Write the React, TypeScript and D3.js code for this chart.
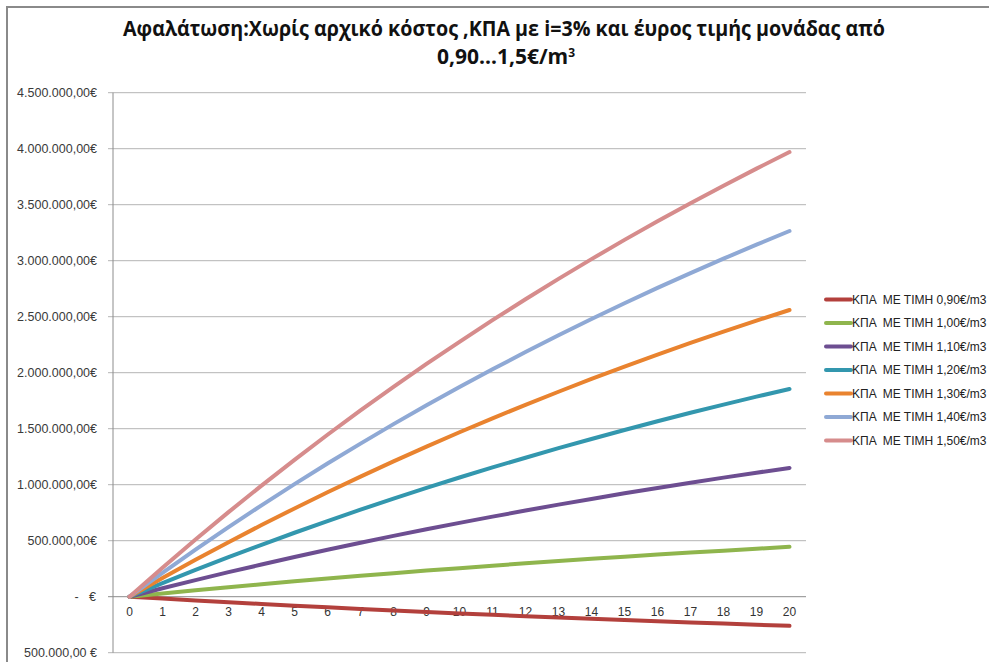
import React from "react";
import * as d3 from "d3";

// Years of operation (x categories)
const years = d3.range(0, 21);

// Unit prices (€/m3) of the scenarios
const priceLabels = ["0,90", "1,00", "1,10", "1,20", "1,30", "1,40", "1,50"];

// Cumulative NPV per year, in thousands of €
const npv090 = [0, -17, -33, -49, -65, -80, -95, -109, -123, -136, -149, -162, -174, -186, -197, -209, -220, -230, -240, -250, -260];
const npv100 = [0, 29, 57, 85, 111, 137, 162, 186, 210, 233, 255, 277, 298, 318, 338, 357, 376, 394, 411, 428, 445];
const npv110 = [0, 75, 148, 219, 287, 354, 419, 482, 543, 602, 659, 715, 769, 822, 873, 923, 971, 1018, 1063, 1107, 1150];
const npv120 = [0, 121, 239, 353, 463, 571, 675, 777, 875, 971, 1064, 1154, 1241, 1326, 1408, 1488, 1566, 1642, 1715, 1786, 1855];
const npv130 = [0, 167, 329, 487, 640, 788, 932, 1072, 1208, 1340, 1468, 1592, 1713, 1830, 1944, 2054, 2161, 2266, 2367, 2465, 2560];
const npv140 = [0, 213, 420, 621, 816, 1005, 1189, 1367, 1541, 1709, 1872, 2031, 2184, 2334, 2479, 2620, 2757, 2889, 3018, 3143, 3265];
const npv150 = [0, 259, 511, 755, 992, 1222, 1446, 1663, 1873, 2078, 2276, 2469, 2656, 2838, 3014, 3186, 3352, 3513, 3670, 3822, 3970];

const seriesValues = [npv090, npv100, npv110, npv120, npv130, npv140, npv150];
const seriesColors = ["#B3403C", "#8FB54D", "#6D4E91", "#3397AE", "#E9832F", "#8FA9D5", "#D68C8C"];

// Value axis ticks (€)
const yTicks = [-500000, 0, 500000, 1000000, 1500000, 2000000, 2500000, 3000000, 3500000, 4000000, 4500000];

const W = 989;
const H = 662;
const plot = { left: 113, right: 806, top: 92.7, bottom: 652.7 };

const fmtEuro = (v: number) => {
  if (v === 0) return "-   €";
  const s = d3.format(",.2f")(Math.abs(v)).replace(/,/g, "#").replace(/\./g, ",").replace(/#/g, ".");
  return v < 0 ? s + " €" : s + "€";
};

export default function App() {
  const x = d3
    .scaleBand<number>()
    .domain(years)
    .range([plot.left, plot.right]);
  const y = d3.scaleLinear().domain([-500000, 4500000]).range([plot.bottom, plot.top]);
  const cx = (d: number) => (x(d) as number) + x.bandwidth() / 2;

  const line = d3
    .line<number>()
    .x((_, i) => cx(years[i]))
    .y((v) => y(v * 1000));

  const font = "'Liberation Sans', Arial, sans-serif";
  const legendTop = 299.5;
  const legendStep = 23.5;

  return (
    <svg
      width={W}
      height={H}
      style={{ position: "absolute", left: 0, top: 0, background: "#fff" }}
      fontFamily={font}
    >
      {/* chart frame */}
      <path d={`M7,${H} V7 H${W}`} fill="none" stroke="#8a8a8a" strokeWidth={2} />

      {/* title */}
      <text
        x={504}
        y={36}
        textAnchor="middle"
        fontFamily="'Liberation Sans Narrow', 'Open Sans', sans-serif"
        fontWeight="bold"
        fontSize={21}
        fill="#111"
        textLength={762}
        lengthAdjust="spacingAndGlyphs"
      >
        Αφαλάτωση:Χωρίς αρχικό κόστος ,ΚΠΑ με i=3% και έυρος τιμής μονάδας από
      </text>
      <text
        x={506}
        y={64}
        textAnchor="middle"
        fontFamily="'Liberation Sans Narrow', 'Open Sans', sans-serif"
        fontWeight="bold"
        fontSize={21}
        fill="#111"
      >
        0,90…1,5€/m<tspan fontSize={12} dy={-7}>3</tspan>
      </text>

      {/* horizontal gridlines and value labels */}
      {yTicks.map((t) => (
        <g key={t}>
          <line
            x1={plot.left - 5}
            x2={plot.right}
            y1={y(t)}
            y2={y(t)}
            stroke={t === 0 ? "#8c8c8c" : "#b4b4b4"}
            strokeWidth={1}
          />
          <text
            x={t === 0 ? 96 : 97}
            y={y(t)}
            dy="0.35em"
            textAnchor="end"
            fontSize={12.5}
            fill="#3a3a3a"
            style={{ whiteSpace: "pre" }}
          >
            {fmtEuro(t)}
          </text>
        </g>
      ))}

      {/* value axis */}
      <line x1={plot.left} x2={plot.left} y1={plot.top} y2={plot.bottom} stroke="#8c8c8c" strokeWidth={1} />

      {/* category labels */}
      {years.map((yr) => (
        <text key={yr} x={cx(yr)} y={y(0) + 19} textAnchor="middle" fontSize={12} fill="#333">
          {yr}
        </text>
      ))}

      {/* series lines */}
      {seriesValues.map((vals, i) => (
        <path
          key={i}
          d={line(vals) as string}
          fill="none"
          stroke={seriesColors[i]}
          strokeWidth={4}
          strokeLinecap="round"
          strokeLinejoin="round"
        />
      ))}

      {/* legend */}
      {priceLabels.map((p, i) => {
        const ly = legendTop + i * legendStep;
        return (
          <g key={p}>
            <line x1={826} x2={851} y1={ly} y2={ly} stroke={seriesColors[i]} strokeWidth={4} strokeLinecap="round" />
            <text x={852} y={ly} dy="0.35em" fontSize={12} fill="#222" style={{ whiteSpace: "pre" }}>
              {`ΚΠΑ  ΜΕ ΤΙΜΗ ${p}€/m3`}
            </text>
          </g>
        );
      })}
    </svg>
  );
}
